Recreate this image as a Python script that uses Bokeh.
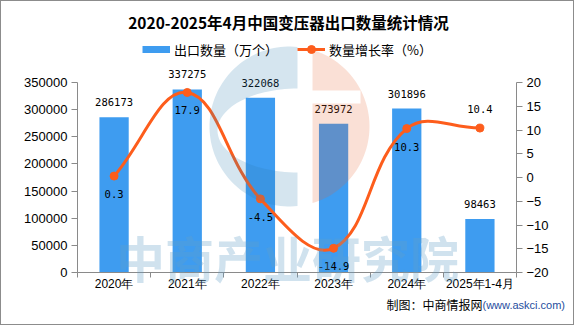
import numpy as np
from bokeh.plotting import figure
from bokeh.models import (Range1d, LinearAxis, FixedTicker, Label, Legend,
                          LegendItem, ColumnDataSource)
from bokeh.core.properties import value
from bokeh.embed import file_html
from bokeh.resources import INLINE

# ---------------- data ----------------
title_text = "2020-2025年4月中国变压器出口数量统计情况"
categories = ["2020年", "2021年", "2022年", "2023年", "2024年", "2025年1-4月"]
export_qty = [286173, 337275, 322068, 273972, 301896, 98463]
growth_rate = [0.3, 17.9, -4.5, -14.9, 10.3, 10.4]
left_ticks = [0, 50000, 100000, 150000, 200000, 250000, 300000, 350000]
right_ticks = [-20, -15, -10, -5, 0, 5, 10, 15, 20]
bar_name = "出口数量（万个）"
line_name = "数量增长率（%）"
source_text = "制图：中商情报网"
source_url = "(www.askci.com)"
watermark_text = "中商产业研究院"

# ---------------- style / geometry ----------------
BAR_COLOR = "#3e9cf0"
LINE_COLOR = "#fd5d1c"
AXIS_COLOR = "#8a8a8a"
W, H = 574, 325                 # canvas inside a 1px page border
def cx(px):                     # page x -> canvas x
    return px - 1
def cy(py):                     # page y -> canvas y from bottom
    return H + 1 - py
PL, PR, PT, PB = 77, 516, 82, 272   # plot-area edges on the page
n = len(categories)
xs = [i + 0.5 for i in range(n)]
ux = (PR - PL) / n
x_start = -cx(PL) / ux
x_end = (W - cx(PL)) / ux
vy0, vy1 = cy(PB), cy(PT)
def yrange(lo, hi):
    k = (hi - lo) / (vy1 - vy0)
    return Range1d(lo - vy0 * k, lo + (H - vy0) * k)
uy = (vy1 - vy0) / (right_ticks[-1] - right_ticks[0])   # px per rate unit

p = figure(width=W, height=H, x_range=Range1d(x_start, x_end),
           y_range=yrange(left_ticks[0], left_ticks[-1]),
           output_backend="svg", toolbar_location=None, title=None,
           x_axis_type=None, y_axis_type=None,
           min_border=0, min_border_left=0, min_border_right=0,
           min_border_top=0, min_border_bottom=0)
p.styles = {"border": "1px solid #8c8c8c"}
p.outline_line_color = None
p.background_fill_color = "white"
p.border_fill_color = "white"
p.extra_y_ranges = {"rate": yrange(right_ticks[0], right_ticks[-1]),
                    "py": Range1d(0, H)}
p.extra_x_ranges = {"px": Range1d(0, W)}

# ---------------- axes ----------------
def style_axis(ax, size="13px"):
    ax.axis_line_color = AXIS_COLOR
    ax.major_tick_line_color = AXIS_COLOR
    ax.minor_tick_line_color = AXIS_COLOR
    ax.major_tick_out = 6
    ax.major_tick_in = 0
    ax.minor_tick_in = 0
    ax.minor_tick_out = 0
    ax.major_label_text_font = "Liberation Sans"
    ax.major_label_text_font_size = size
    ax.major_label_text_color = "black"
    ax.major_label_standoff = 4

yl = LinearAxis(ticker=FixedTicker(ticks=left_ticks),
                bounds=(left_ticks[0], left_ticks[-1]), fixed_location=0,
                major_label_overrides={float(v): str(v) for v in left_ticks})
style_axis(yl)
p.add_layout(yl, "left")

yr = LinearAxis(y_range_name="rate", ticker=FixedTicker(ticks=right_ticks),
                bounds=(right_ticks[0], right_ticks[-1]), fixed_location=n,
                major_label_overrides={float(v): str(v).replace("-", "−") for v in right_ticks})
style_axis(yr)
p.add_layout(yr, "right")

xa = LinearAxis(ticker=FixedTicker(ticks=xs, minor_ticks=list(range(n + 1))),
                bounds=(0, n), fixed_location=left_ticks[0],
                major_label_overrides={float(x): c for x, c in zip(xs, categories)})
style_axis(xa, "12px")
xa.major_tick_out = 0
xa.minor_tick_out = 5
xa.major_label_standoff = -1
p.add_layout(xa, "below")

# ---------------- bars ----------------
bsrc = ColumnDataSource(dict(x=xs, top=export_qty,
                             lab=[str(v) for v in export_qty]))
p.vbar(x="x", top="top", width=0.4, source=bsrc, fill_color=BAR_COLOR,
       line_color=None)
p.text(x="x", y="top", text="lab", source=bsrc, text_align="center",
       text_baseline="middle", y_offset=-15, text_color="black",
       text_font=value("DejaVu Sans Mono"), text_font_size="10.5px")

# ---------------- smooth growth line through the data points -------------
SMOOTH = 0.4
Ppx = np.array([[x * ux, r * uy] for x, r in zip(xs, growth_rate)])
cp_in, cp_out = [], []
for i in range(n):
    cur = Ppx[i]
    prv = Ppx[i - 1] if i > 0 else cur
    nxt = Ppx[i + 1] if i < n - 1 else cur
    v = (nxt - prv) * SMOOTH
    d0 = np.hypot(*(cur - prv)); d1 = np.hypot(*(nxt - cur))
    s = d0 + d1
    r0, r1 = (d0 / s, d1 / s) if s else (0, 0)
    cp_in.append(cur - v * r0)
    cp_out.append(cur + v * r1)
sc = np.array([ux, uy])
seg = dict(x0=[], y0=[], x1=[], y1=[], cx0=[], cy0=[], cx1=[], cy1=[])
for i in range(n - 1):
    a, b = Ppx[i] / sc, Ppx[i + 1] / sc
    c0, c1 = cp_out[i] / sc, cp_in[i + 1] / sc
    seg["x0"].append(a[0]); seg["y0"].append(a[1])
    seg["x1"].append(b[0]); seg["y1"].append(b[1])
    seg["cx0"].append(c0[0]); seg["cy0"].append(c0[1])
    seg["cx1"].append(c1[0]); seg["cy1"].append(c1[1])
p.bezier(x0="x0", y0="y0", x1="x1", y1="y1", cx0="cx0", cy0="cy0",
         cx1="cx1", cy1="cy1", source=ColumnDataSource(seg),
         y_range_name="rate", line_color=LINE_COLOR, line_width=3,
         line_cap="round")
lsrc = ColumnDataSource(dict(x=xs, y=growth_rate,
                             lab=[str(v) for v in growth_rate],
                             off=[18] * (n - 1) + [-19]))
pts = p.scatter(x="x", y="y", source=lsrc, y_range_name="rate", size=8,
                fill_color=LINE_COLOR, line_color=LINE_COLOR)
p.text(x="x", y="y", text="lab", source=lsrc, y_range_name="rate",
       y_offset="off", text_align="center", text_baseline="middle",
       text_color="black", text_font=value("DejaVu Sans Mono"),
       text_font_size="10.5px")

# ---------------- legend swatches (kept off-canvas, only shown in legends) --
sw_src = ColumnDataSource(dict(x=[-1000, -999], y=[-1000, -1000]))
sw_bar = p.line(x="x", y="y", source=sw_src, x_range_name="px",
                y_range_name="py", line_color=BAR_COLOR, line_width=7,
                line_cap="butt")
sw_line = p.line(x="x", y="y", source=sw_src, x_range_name="px",
                 y_range_name="py", line_color=LINE_COLOR, line_width=3)

def make_legend(items, loc):
    lg = Legend(items=items, location=loc, orientation="horizontal",
                border_line_color=None, background_fill_alpha=0,
                padding=0, margin=0, label_standoff=4, glyph_width=28,
                glyph_height=20, label_height=20,
                label_text_font="Noto Sans CJK SC",
                label_text_font_size="13px", label_text_color="black")
    p.add_layout(lg, "center")

make_legend([LegendItem(label=bar_name, renderers=[sw_bar])], (cx(142), cy(59)))
make_legend([LegendItem(label=line_name, renderers=[sw_line, pts])], (cx(297), cy(59)))

# ---------------- watermark logo (canvas pixel coordinates) ----------------
R = 80.0
C = np.array([cx(289.0), cy(126.0)])
cut_x = cx(297.0)
E = np.array([cut_x, cy(130.0)]); ea, eb = 80.0, 42.0
dy = np.sqrt(R ** 2 - (cut_x - C[0]) ** 2)
t_top = np.arctan2(dy, cut_x - C[0])
th = np.linspace(t_top, 2 * np.pi - t_top, 80)
bx = list(C[0] + R * np.cos(th)) + [cut_x]
by = list(C[1] + R * np.sin(th)) + [E[1] - eb]
ph = np.linspace(1.5 * np.pi, 0.5 * np.pi, 60)
bx += list(E[0] + ea * np.cos(ph))
by += list(E[1] + eb * np.sin(ph))

ox_c = cx(312.0)
dy2 = np.sqrt(R ** 2 - (ox_c - C[0]) ** 2)
t2 = np.arctan2(dy2, ox_c - C[0])
th2 = np.linspace(t2, -t2, 60)
ox = list(C[0] + R * np.cos(th2))
oy = list(C[1] + R * np.sin(th2))
n_x1, n_y0, n_y1 = cx(360.0), cy(103.0), cy(90.0)
ox += [ox_c, ox_c, n_x1, n_x1, ox_c]
oy += [C[1] - dy2, n_y0, n_y0, n_y1, n_y1]

p.patches(xs=[bx, ox], ys=[by, oy], x_range_name="px", y_range_name="py",
          fill_color=["#2d7daf", "#e66432"], fill_alpha=0.2, line_color=None)

p.add_layout(Label(x=cx(287), y=cy(256), x_units="screen", y_units="screen",
                   text=watermark_text, text_align="center",
                   text_baseline="middle", text_font="Noto Sans CJK SC",
                   text_font_size="49px", text_font_style="bold",
                   text_color="#629ec6", text_alpha=0.3))

# ---------------- title & source ----------------
p.add_layout(Label(x=cx(288), y=cy(21), x_units="screen", y_units="screen",
                   text=title_text, text_align="center", text_baseline="middle",
                   text_font="Noto Sans CJK SC", text_font_size="15.5px",
                   text_font_style="bold", text_color="black"))
p.add_layout(Label(x=cx(482), y=cy(304), x_units="screen", y_units="screen",
                   text=source_text, text_align="right", text_baseline="middle",
                   text_font="Noto Sans CJK SC", text_font_size="12px",
                   text_color="black"))
p.add_layout(Label(x=cx(482), y=cy(304), x_units="screen", y_units="screen",
                   text=source_url, text_align="left", text_baseline="middle",
                   text_font="Liberation Sans", text_font_size="11px",
                   text_color="#1f4e9e"))

open("out.html", "w").write(file_html(p, INLINE))
